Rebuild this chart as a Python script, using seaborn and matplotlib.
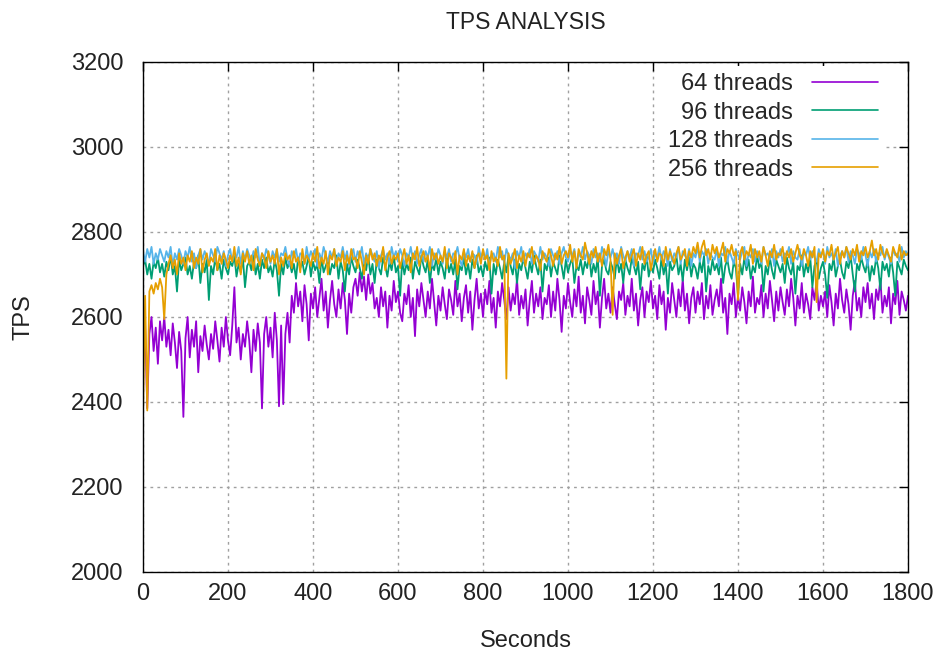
import matplotlib
matplotlib.use("Agg")
import matplotlib.pyplot as plt
import seaborn as sns
import pandas as pd

seconds = list(range(0, 1801, 5))

tps_64 = [
    2620, 2580, 2385, 2560, 2600, 2520, 2575, 2490, 2590, 2545,
    2600, 2530, 2570, 2510, 2585, 2540, 2480, 2565, 2520, 2365,
    2550, 2600, 2505, 2570, 2530, 2590, 2470, 2555, 2520, 2580,
    2535, 2500, 2560, 2525, 2590, 2545, 2495, 2575, 2530, 2600,
    2545, 2510, 2580, 2670, 2540, 2575, 2500, 2560, 2530, 2590,
    2545, 2470, 2570, 2520, 2585, 2540, 2385, 2560, 2600, 2530,
    2575, 2505, 2610, 2545, 2390, 2580, 2395, 2560, 2610, 2540,
    2650, 2610, 2680, 2625, 2660, 2590, 2675, 2630, 2545, 2655,
    2620, 2670, 2600, 2645, 2690, 2615, 2660, 2575, 2640, 2685,
    2630, 2600, 2665, 2620, 2680, 2640, 2560, 2655, 2610, 2670,
    2690, 2650, 2705, 2660, 2695, 2640, 2700, 2655, 2680, 2620,
    2645, 2600, 2670, 2625, 2660, 2575, 2650, 2615, 2685, 2635,
    2660, 2610, 2590, 2655, 2630, 2675, 2600, 2645, 2555, 2665,
    2625, 2680, 2640, 2600, 2660, 2620, 2690, 2635, 2580, 2650,
    2615, 2670, 2630, 2595, 2665, 2640, 2605, 2685, 2625, 2655,
    2590, 2645, 2675, 2610, 2660, 2570, 2640, 2690, 2620, 2655,
    2600, 2665, 2630, 2685, 2610, 2645, 2575, 2660, 2625, 2680,
    2640, 2595, 2670, 2615, 2655, 2630, 2690, 2605, 2650, 2620,
    2665, 2580, 2640, 2685, 2610, 2655, 2625, 2670, 2595, 2645,
    2630, 2675, 2600, 2660, 2615, 2690, 2640, 2565, 2650, 2620,
    2680, 2635, 2600, 2665, 2625, 2695, 2610, 2650, 2585, 2670,
    2640, 2605, 2685, 2630, 2660, 2575, 2645, 2690, 2620, 2655,
    2610, 2670, 2630, 2595, 2660, 2640, 2680, 2605, 2650, 2625,
    2690, 2615, 2655, 2580, 2640, 2670, 2600, 2660, 2635, 2685,
    2620, 2650, 2595, 2675, 2630, 2660, 2570, 2645, 2610, 2680,
    2640, 2600, 2665, 2625, 2690, 2615, 2655, 2585, 2645, 2670,
    2610, 2660, 2630, 2680, 2595, 2650, 2620, 2675, 2605, 2640,
    2665, 2625, 2690, 2610, 2645, 2560, 2655, 2630, 2680, 2600,
    2650, 2615, 2670, 2635, 2585, 2660, 2625, 2695, 2610, 2645,
    2630, 2675, 2600, 2655, 2620, 2685, 2640, 2590, 2660, 2615,
    2670, 2635, 2605, 2665, 2625, 2690, 2645, 2580, 2650, 2620,
    2680, 2610, 2655, 2630, 2595, 2670, 2640, 2685, 2615, 2650,
    2625, 2660, 2600, 2675, 2635, 2580, 2655, 2620, 2690, 2640,
    2610, 2665, 2630, 2570, 2650, 2685, 2615, 2645, 2600, 2670,
    2635, 2680, 2620, 2655, 2595, 2665, 2640, 2690, 2610, 2650,
    2625, 2670, 2585, 2655, 2630, 2685, 2605, 2660, 2640, 2615,
    2650,
]

tps_96 = [
    2720, 2735, 2700, 2725, 2690, 2730, 2715, 2740, 2705, 2725,
    2695, 2730, 2710, 2745, 2700, 2720, 2660, 2735, 2710, 2725,
    2740, 2700, 2720, 2690, 2730, 2715, 2745, 2680, 2725, 2705,
    2735, 2640, 2720, 2700, 2740, 2710, 2725, 2690, 2735, 2715,
    2700, 2730, 2720, 2745, 2695, 2725, 2705, 2740, 2670, 2720,
    2730, 2710, 2745, 2700, 2725, 2690, 2735, 2715, 2740, 2705,
    2720, 2695, 2735, 2710, 2650, 2725, 2700, 2740, 2715, 2730,
    2705, 2725, 2690, 2740, 2715, 2730, 2700, 2720, 2745, 2695,
    2730, 2710, 2725, 2680, 2740, 2705, 2720, 2735, 2700, 2725,
    2715, 2745, 2690, 2730, 2710, 2660, 2725, 2700, 2740, 2720,
    2705, 2735, 2715, 2690, 2730, 2710, 2745, 2700, 2725, 2680,
    2735, 2715, 2700, 2740, 2720, 2695, 2730, 2710, 2745, 2705,
    2720, 2650, 2735, 2700, 2725, 2710, 2740, 2690, 2730, 2715,
    2700, 2745, 2720, 2705, 2735, 2680, 2725, 2710, 2740, 2700,
    2730, 2715, 2690, 2740, 2705, 2725, 2700, 2735, 2665, 2720,
    2710, 2740, 2700, 2725, 2690, 2735, 2715, 2745, 2705, 2720,
    2695, 2730, 2710, 2740, 2655, 2725, 2700, 2735, 2715, 2690,
    2730, 2705, 2745, 2720, 2700, 2735, 2680, 2725, 2710, 2740,
    2715, 2690, 2730, 2705, 2745, 2720, 2700, 2735, 2660, 2725,
    2710, 2740, 2695, 2730, 2715, 2700, 2745, 2720, 2690, 2735,
    2705, 2725, 2740, 2680, 2720, 2710, 2735, 2700, 2730, 2715,
    2745, 2695, 2725, 2705, 2740, 2650, 2720, 2735, 2710, 2700,
    2730, 2715, 2690, 2740, 2705, 2725, 2680, 2735, 2715, 2700,
    2740, 2720, 2700, 2730, 2665, 2725, 2710, 2745, 2695, 2720,
    2705, 2735, 2715, 2690, 2740, 2700, 2725, 2655, 2730, 2710,
    2720, 2745, 2700, 2725, 2685, 2735, 2710, 2740, 2695, 2725,
    2715, 2690, 2730, 2705, 2745, 2660, 2720, 2700, 2735, 2710,
    2725, 2700, 2740, 2680, 2720, 2735, 2705, 2690, 2730, 2715,
    2650, 2725, 2700, 2740, 2710, 2735, 2690, 2720, 2705, 2745,
    2715, 2730, 2660, 2720, 2700, 2740, 2710, 2690, 2735, 2720,
    2705, 2725, 2680, 2740, 2715, 2700, 2730, 2655, 2720, 2710,
    2745, 2695, 2725, 2705, 2740, 2670, 2720, 2735, 2690, 2715,
    2730, 2700, 2645, 2725, 2710, 2740, 2695, 2720, 2735, 2705,
    2690, 2730, 2715, 2745, 2700, 2660, 2725, 2710, 2740, 2720,
    2705, 2735, 2685, 2720, 2700, 2740, 2715, 2665, 2730, 2710,
    2725, 2695, 2740, 2705, 2650, 2730, 2715, 2700, 2735, 2720,
    2710,
]

tps_128 = [
    2755, 2730, 2760, 2740, 2765, 2725, 2750, 2735, 2760, 2745,
    2730, 2755, 2740, 2765, 2720, 2750, 2735, 2760, 2745, 2725,
    2755, 2740, 2765, 2730, 2750, 2715, 2745, 2760, 2735, 2755,
    2740, 2725, 2760, 2745, 2730, 2765, 2750, 2735, 2755, 2720,
    2745, 2760, 2730, 2750, 2740, 2765, 2725, 2755, 2735, 2760,
    2745, 2730, 2755, 2740, 2765, 2720, 2750, 2735, 2760, 2745,
    2725, 2755, 2740, 2760, 2730, 2750, 2745, 2765, 2735, 2720,
    2755, 2740, 2760, 2730, 2750, 2745, 2725, 2765, 2735, 2755,
    2740, 2760, 2720, 2750, 2735, 2765, 2745, 2730, 2755, 2740,
    2760, 2725, 2750, 2740, 2765, 2735, 2755, 2720, 2745, 2760,
    2730, 2755, 2740, 2765, 2725, 2750, 2735, 2760, 2745, 2730,
    2755, 2715, 2745, 2760, 2735, 2750, 2725, 2765, 2740, 2755,
    2730, 2760, 2745, 2720, 2750, 2740, 2765, 2735, 2755, 2725,
    2745, 2760, 2730, 2755, 2740, 2765, 2720, 2750, 2735, 2760,
    2745, 2725, 2755, 2740, 2760, 2730, 2750, 2745, 2765, 2735,
    2720, 2755, 2740, 2760, 2730, 2750, 2745, 2725, 2765, 2740,
    2755, 2735, 2760, 2720, 2745, 2750, 2730, 2765, 2740, 2755,
    2725, 2760, 2745, 2735, 2750, 2715, 2755, 2740, 2765, 2730,
    2750, 2740, 2760, 2725, 2755, 2745, 2730, 2765, 2735, 2750,
    2740, 2720, 2760, 2745, 2735, 2755, 2725, 2750, 2765, 2740,
    2730, 2755, 2745, 2760, 2720, 2750, 2740, 2765, 2735, 2755,
    2745, 2725, 2760, 2740, 2750, 2730, 2765, 2745, 2720, 2755,
    2740, 2760, 2735, 2750, 2725, 2765, 2745, 2730, 2755, 2740,
    2760, 2720, 2750, 2745, 2765, 2735, 2755, 2730, 2740, 2760,
    2725, 2750, 2740, 2765, 2735, 2755, 2745, 2720, 2760, 2730,
    2750, 2740, 2765, 2725, 2755, 2745, 2735, 2760, 2720, 2750,
    2740, 2765, 2730, 2755, 2745, 2760, 2725, 2750, 2740, 2735,
    2760, 2720, 2750, 2745, 2765, 2730, 2755, 2740, 2725, 2760,
    2745, 2735, 2755, 2765, 2720, 2750, 2740, 2760, 2730, 2755,
    2740, 2725, 2765, 2745, 2750, 2735, 2760, 2720, 2755, 2740,
    2760, 2730, 2750, 2745, 2765, 2725, 2755, 2740, 2735, 2760,
    2720, 2750, 2745, 2765, 2735, 2755, 2740, 2730, 2760, 2745,
    2755, 2725, 2765, 2740, 2750, 2735, 2760, 2720, 2745, 2755,
    2740, 2765, 2730, 2755, 2745, 2725, 2760, 2750, 2735, 2765,
    2745, 2720, 2755, 2740, 2760, 2730, 2750, 2745, 2765, 2735,
    2755, 2740, 2725, 2760, 2745, 2750, 2730, 2765, 2740, 2755,
    2745,
]

tps_256 = [
    2370, 2650, 2380, 2660, 2675, 2655, 2680, 2665, 2690, 2670,
    2595, 2700, 2725, 2745, 2715, 2735, 2700, 2750, 2725, 2740,
    2710, 2745, 2730, 2755, 2715, 2740, 2725, 2760, 2705, 2735,
    2750, 2720, 2740, 2730, 2760, 2710, 2745, 2725, 2750, 2735,
    2715, 2745, 2730, 2765, 2720, 2740, 2700, 2750, 2730, 2755,
    2725, 2745, 2710, 2760, 2735, 2720, 2750, 2740, 2715, 2755,
    2730, 2745, 2725, 2760, 2700, 2740, 2720, 2750, 2735, 2745,
    2715, 2755, 2730, 2740, 2705, 2760, 2725, 2745, 2735, 2720,
    2750, 2730, 2765, 2715, 2740, 2725, 2755, 2700, 2745, 2735,
    2760, 2720, 2740, 2730, 2755, 2710, 2745, 2725, 2760, 2735,
    2740, 2715, 2755, 2730, 2700, 2745, 2725, 2760, 2735, 2750,
    2720, 2745, 2730, 2765, 2710, 2740, 2755, 2725, 2745, 2735,
    2750, 2715, 2740, 2760, 2725, 2745, 2705, 2750, 2735, 2765,
    2720, 2740, 2755, 2730, 2745, 2710, 2760, 2735, 2750, 2725,
    2745, 2730, 2765, 2715, 2750, 2740, 2725, 2755, 2700, 2745,
    2735, 2760, 2720, 2745, 2730, 2755, 2715, 2740, 2750, 2725,
    2760, 2735, 2745, 2710, 2755, 2730, 2740, 2720, 2765, 2735,
    2745, 2455, 2750, 2725, 2740, 2760, 2715, 2745, 2730, 2755,
    2720, 2750, 2740, 2765, 2725, 2745, 2735, 2710, 2755, 2740,
    2730, 2760, 2745, 2720, 2750, 2735, 2765, 2725, 2745, 2755,
    2740, 2770, 2730, 2755, 2715, 2760, 2745, 2735, 2775, 2750,
    2725, 2755, 2740, 2765, 2730, 2750, 2720, 2760, 2745, 2770,
    2735, 2605, 2750, 2725, 2745, 2760, 2715, 2740, 2755, 2730,
    2745, 2760, 2720, 2750, 2735, 2765, 2725, 2745, 2755, 2710,
    2740, 2760, 2730, 2750, 2745, 2720, 2765, 2735, 2755, 2740,
    2725, 2750, 2765, 2735, 2745, 2760, 2720, 2755, 2740, 2765,
    2750, 2775, 2740, 2765, 2780, 2745, 2760, 2735, 2770, 2750,
    2765, 2740, 2755, 2775, 2730, 2760, 2750, 2770, 2745, 2755,
    2640, 2750, 2765, 2735, 2755, 2745, 2770, 2725, 2760, 2740,
    2755, 2730, 2765, 2745, 2720, 2755, 2740, 2770, 2735, 2750,
    2745, 2765, 2725, 2755, 2740, 2760, 2730, 2750, 2770, 2745,
    2735, 2760, 2745, 2720, 2755, 2740, 2765, 2635, 2750, 2740,
    2760, 2730, 2755, 2745, 2770, 2735, 2750, 2765, 2725, 2755,
    2740, 2765, 2750, 2735, 2760, 2745, 2770, 2730, 2755, 2745,
    2765, 2740, 2755, 2780, 2745, 2760, 2735, 2770, 2750, 2740,
    2760, 2745, 2730, 2765, 2750, 2740, 2770, 2735, 2755, 2745,
    2750,
]

series_labels = ["64 threads", "96 threads", "128 threads", "256 threads"]
series_colors = ["#9400d3", "#009e73", "#56b4e9", "#e69f00"]
x_ticks = [0, 200, 400, 600, 800, 1000, 1200, 1400, 1600, 1800]
y_ticks = [2000, 2200, 2400, 2600, 2800, 3000, 3200]

sns.set_theme(style="white")
plt.rcParams["font.family"] = ["Liberation Sans", "DejaVu Sans"]

fig = plt.figure(figsize=(9.37, 6.53), dpi=100)
ax = fig.add_axes([143 / 937, 81 / 653, 765 / 937, 510 / 653])

frames = []
for lab, vals in zip(series_labels, [tps_64, tps_96, tps_128, tps_256]):
    frames.append(pd.DataFrame({"Seconds": seconds, "TPS": vals, "series": lab}))
df = pd.concat(frames, ignore_index=True)

for lab, col in zip(series_labels, series_colors):
    sub = df[df["series"] == lab]
    sns.lineplot(data=sub, x="Seconds", y="TPS", color=col, lw=1.3,
                 label=lab, ax=ax, estimator=None, sort=False)

ax.set_xlim(0, 1800)
ax.set_ylim(2000, 3200)
ax.set_xticks(x_ticks)
ax.set_yticks(y_ticks)
ax.grid(True, color="#a0a0a0", linestyle=(0, (2, 3)), lw=1.0)
ax.set_axisbelow(True)
for s in ax.spines.values():
    s.set_visible(True)
    s.set_color("black")
    s.set_linewidth(1.0)
ax.tick_params(axis="both", which="both", direction="in", length=6.5, width=1,
               colors="black", labelsize=17, top=True, right=True,
               labelcolor="#222222")
ax.tick_params(axis="y", pad=14)
ax.tick_params(axis="x", pad=8)

ax.set_xlabel("Seconds", fontsize=17, color="#222222", labelpad=18)
ax.set_ylabel("TPS", fontsize=17, color="#222222", labelpad=26)
ax.set_title("TPS ANALYSIS", fontsize=16.5, color="#222222", pad=24)

leg = ax.legend(loc="upper right", bbox_to_anchor=(0.970, 0.9925),
                markerfirst=False, frameon=True,
                facecolor="white", edgecolor="none", framealpha=1.0,
                fancybox=False, fontsize=17, handlelength=2.8,
                handletextpad=0.8, labelspacing=0.28, borderpad=0.3,
                borderaxespad=0.0)
for line in leg.get_lines():
    line.set_linewidth(1.2)

fig.savefig("out.png", dpi=100)
